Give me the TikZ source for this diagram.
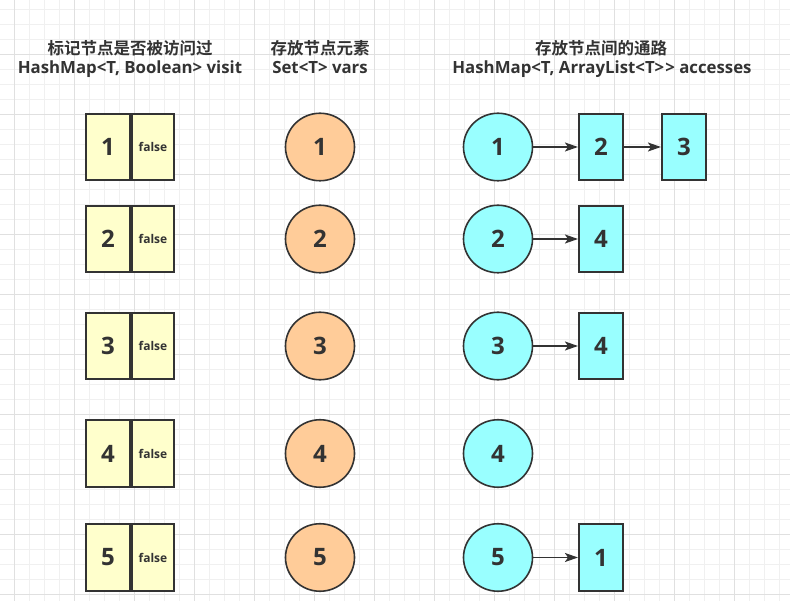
\documentclass[tikz,border=0pt]{standalone}
\usepackage{fontspec}
\setmainfont{Open Sans}
\newfontfamily\cjk{Noto Sans CJK SC Bold}
\usetikzlibrary{arrows.meta,shapes.geometric}
\definecolor{ink}{HTML}{333333}
\definecolor{yel}{HTML}{FFFFCC}
\definecolor{org}{HTML}{FFCC99}
\definecolor{cya}{HTML}{99FFFF}
\definecolor{gmin}{HTML}{F0F0F0}
\definecolor{gmaj}{HTML}{E0E0E0}
\begin{document}
\begin{tikzpicture}[x=1pt,y=-1pt,
  numfont/.style={font=\bfseries\fontsize{24}{24}\selectfont},
  keycell/.style={draw=ink,line width=1.6pt,fill=yel,minimum width=44.5pt,minimum height=66.5pt,inner sep=0pt,text=ink,numfont},
  valcell/.style={draw=ink,line width=1.6pt,fill=yel,minimum width=42.5pt,minimum height=66.5pt,inner sep=0pt,text=ink,font=\bfseries\fontsize{12}{12}\selectfont},
  setnode/.style={ellipse,draw=ink,line width=1.6pt,fill=org,minimum width=69pt,minimum height=67.5pt,inner sep=0pt,text=ink,numfont},
  keynode/.style={ellipse,draw=ink,line width=1.6pt,fill=cya,minimum width=69pt,minimum height=67.5pt,inner sep=0pt,text=ink,numfont},
  listnode/.style={draw=ink,line width=1.6pt,fill=cya,minimum width=44.5pt,minimum height=66.5pt,inner sep=0pt,text=ink,numfont},
  link/.style={draw=ink,line width=1.3pt,-{Stealth[length=13pt,width=9pt,inset=3pt]}},
  cjktitle/.style={anchor=base,inner sep=0pt,text=ink,font=\cjk\fontsize{16.5}{16.5}\selectfont},
  lattitle/.style={anchor=base,inner sep=0pt,text=ink,font=\bfseries\fontsize{16.8}{16.8}\selectfont},
]
\useasboundingbox (0,0) rectangle (790,601);
\fill[white] (0,0) rectangle (790,601);
% grid
\foreach \i in {-1,...,52} {
  \draw[gmin,line width=1pt] ({14.3+15*\i},0) -- ({14.3+15*\i},601);
}
\foreach \i in {-1,...,40} {
  \draw[gmin,line width=1pt] (0,{9.3+15*\i}) -- (790,{9.3+15*\i});
}
\foreach \i in {0,...,13} {
  \draw[gmaj,line width=1pt] ({14.3+60*\i},0) -- ({14.3+60*\i},601);
}
\foreach \i in {-1,...,10} {
  \draw[gmaj,line width=1pt] (0,{54.3+60*\i}) -- (790,{54.3+60*\i});
}

% titles
\node[cjktitle] (t1a) at (130,55) {标记节点是否被访问过};
\node[lattitle] (t1b) at (130,74) {HashMap<T, Boolean> visit};
\node[cjktitle] (t2a) at (320,55) {存放节点元素};
\node[lattitle] (t2b) at (320,74) {Set<T> vars};
\node[cjktitle] (t3a) at (601,55) {存放节点间的通路};
\node[lattitle] (t3b) at (602,74) {HashMap<T, ArrayList<T>{}\kern1pt> accesses};

% visit map
\foreach \n/\y in {1/147,2/239,3/346,4/453.5,5/557.5} {
  \node[keycell] (k\n) at (108,\y) {\n};
  \node[valcell] (v\n) at (153,\y) {false};
  \node[setnode] (s\n) at (320,\y) {\n};
  \node[keynode] (a\n) at (498,\y) {\n};
}

% adjacency lists
\node[listnode] (l12) at (601,147) {2};
\node[listnode] (l13) at (684,147) {3};
\node[listnode] (l24) at (601,239) {4};
\node[listnode] (l34) at (601,346) {4};
\node[listnode] (l51) at (601,557.5) {1};

\draw[link] (a1) -- (l12);
\draw[link] (l12) -- (l13);
\draw[link] (a2) -- (l24);
\draw[link] (a3) -- (l34);
\draw[link] (a5) -- (l51);
\end{tikzpicture}
\end{document}
